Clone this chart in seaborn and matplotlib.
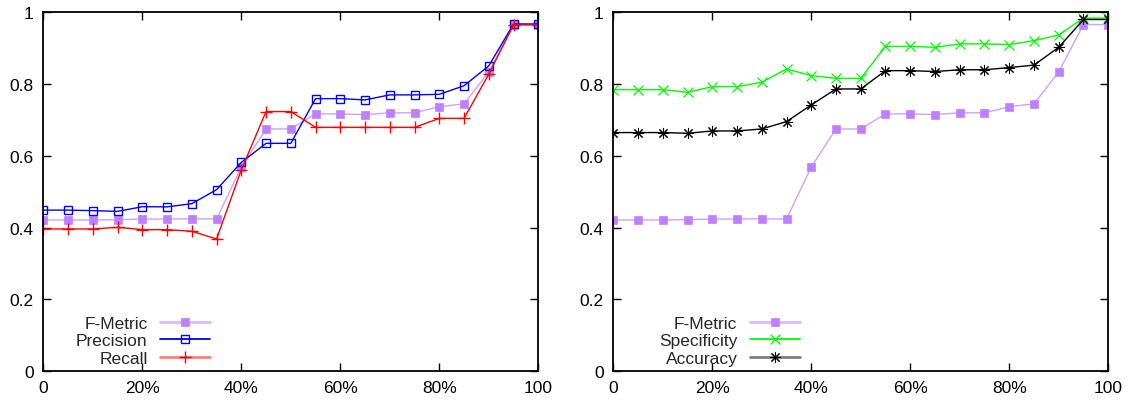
import numpy as np
import pandas as pd
import matplotlib
matplotlib.use("Agg")
import matplotlib.pyplot as plt
from matplotlib.lines import Line2D
import seaborn as sns

# ---- data ----
x_pct = [0, 5, 10, 15, 20, 25, 30, 35, 40, 45, 50, 55, 60, 65, 70, 75, 80, 85, 90, 95, 100]
x_ticks = [0, 20, 40, 60, 80, 100]
x_tick_labels = ["0", "20%", "40%", "60%", "80%", "100"]
y_ticks = [0, 0.2, 0.4, 0.6, 0.8, 1.0]
y_tick_labels = ["0", "0.2", "0.4", "0.6", "0.8", "1"]

f_metric = [0.4215, 0.4215, 0.4215, 0.4225, 0.424, 0.424, 0.425, 0.424, 0.569, 0.675, 0.675,
            0.717, 0.717, 0.715, 0.720, 0.720, 0.737, 0.745, 0.834, 0.966, 0.966]
precision = [0.449, 0.449, 0.4475, 0.4455, 0.4585, 0.458, 0.467, 0.506, 0.582, 0.635, 0.635,
             0.7595, 0.7595, 0.756, 0.770, 0.770, 0.7715, 0.7955, 0.851, 0.9675, 0.9675]
recall = [0.3965, 0.3965, 0.3965, 0.401, 0.3945, 0.3945, 0.390, 0.3685, 0.5615, 0.7235, 0.7235,
          0.6795, 0.6795, 0.6795, 0.6795, 0.6795, 0.7045, 0.7045, 0.828, 0.965, 0.965]
specificity = [0.7845, 0.7845, 0.7845, 0.777, 0.793, 0.793, 0.805, 0.842, 0.8235, 0.816, 0.816,
               0.905, 0.905, 0.9025, 0.912, 0.912, 0.910, 0.921, 0.937, 0.984, 0.984]
accuracy = [0.665, 0.665, 0.665, 0.663, 0.6695, 0.6695, 0.675, 0.6955, 0.742, 0.7865, 0.7865,
            0.8375, 0.8375, 0.835, 0.840, 0.840, 0.846, 0.853, 0.9025, 0.980, 0.980]

sns.set_style("ticks")
plt.rcParams["font.family"] = ["Liberation Sans", "DejaVu Sans"]
FS = 12.5

PURPLE = "#bf80ff"
PURPLE_LINE = "#c9a3ff"
BLUE = "#0000ff"
RED = "#ff0000"
GREEN = "#00ff00"
BLACK = "#000000"

fig = plt.figure(figsize=(11.29, 4.02), dpi=100)
ax1 = fig.add_axes([0.0384, 0.0739, 0.4384, 0.893])
ax2 = fig.add_axes([0.5432, 0.0739, 0.4384, 0.893])

def draw(ax, y, line_color, marker, ms, mfc, mec, mew=1.0):
    sns.lineplot(x=x_pct, y=y, ax=ax, color=line_color, linewidth=1.0,
                 marker=marker, markersize=ms, markerfacecolor=mfc,
                 markeredgecolor=mec, markeredgewidth=mew, legend=False)

ASTERISK = (8, 2, 0)

# left panel
draw(ax1, f_metric, PURPLE_LINE, "s", 6.4, PURPLE, PURPLE, 0.5)
draw(ax1, precision, BLUE, "s", 6.2, "none", BLUE, 1.0)
draw(ax1, recall, RED, "+", 8, RED, RED, 1.0)

# right panel
draw(ax2, f_metric, PURPLE_LINE, "s", 6.4, PURPLE, PURPLE, 0.5)
draw(ax2, specificity, GREEN, "x", 6.8, GREEN, GREEN, 0.9)
draw(ax2, accuracy, BLACK, ASTERISK, 8, BLACK, BLACK, 0.75)

for ax in (ax1, ax2):
    ax.set_xlim(0, 100)
    ax.set_ylim(0, 1)
    ax.set_xticks(x_ticks)
    ax.set_xticklabels(x_tick_labels)
    ax.set_yticks(y_ticks)
    ax.set_yticklabels(y_tick_labels)
    ax.tick_params(direction="in", top=True, right=True, length=6, width=1.0,
                   labelsize=FS, pad=7, colors="black")
    ax.tick_params(axis="x", pad=6)
    ax.set_xlabel("")
    ax.set_ylabel("")
    for s in ax.spines.values():
        s.set_visible(True)
        s.set_linewidth(1.3)
        s.set_color("black")

def handle(line_rgba, marker, ms, mfc, mec, mew, lw=2.0):
    return Line2D([0], [0], color=line_rgba, linewidth=lw, marker=marker, markersize=ms,
                  markerfacecolor=mfc, markeredgecolor=mec, markeredgewidth=mew)

h_f = handle((0.75, 0.5, 1.0, 0.55), "s", 6.4, PURPLE, PURPLE, 0.5)
h_p = handle(BLUE, "s", 6.2, "none", BLUE, 1.0, lw=1.3)
h_r = handle((1.0, 0.0, 0.0, 0.5), "+", 8, RED, RED, 1.0)
h_s = handle(GREEN, "x", 6.8, GREEN, GREEN, 0.9, lw=1.3)
h_a = handle((0.0, 0.0, 0.0, 0.5), ASTERISK, 8, BLACK, BLACK, 0.75)

leg_kw = dict(loc="lower right", frameon=False, markerfirst=False, fontsize=FS,
              handlelength=2.9, handletextpad=0.7, labelspacing=0.13, borderpad=0,
              borderaxespad=0)
ax1.legend([h_f, h_p, h_r], ["F-Metric", "Precision", "Recall"],
           bbox_to_anchor=(0.337, 0.015), **leg_kw)
ax2.legend([h_f, h_s, h_a], ["F-Metric", "Specificity", "Accuracy"],
           bbox_to_anchor=(0.377, 0.015), **leg_kw)

fig.savefig("out.png", dpi=100)
